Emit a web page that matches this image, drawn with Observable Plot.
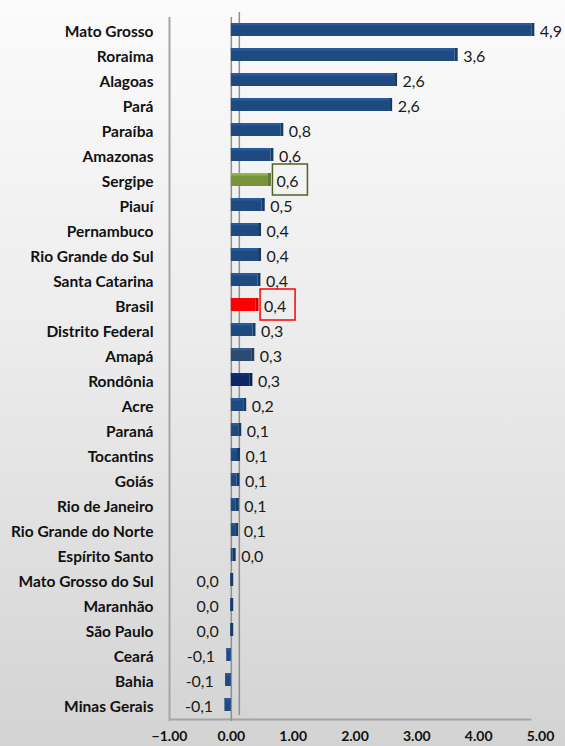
<!DOCTYPE html>
<html>
<head>
<meta charset="utf-8">
<script src="https://cdn.jsdelivr.net/npm/d3@7"></script>
<script src="https://cdn.jsdelivr.net/npm/@observablehq/plot@0.6"></script>
<style>
  html, body { margin: 0; padding: 0; }
  body { width: 565px; height: 746px; background: linear-gradient(#fbfbfb 0%, #ececec 45%, #d3d3d3 100%); overflow: hidden; }
</style>
</head>
<body>
<div id="chart"></div>
<script>
const categories = ["Mato Grosso","Roraima","Alagoas","Pará","Paraíba","Amazonas","Sergipe","Piauí","Pernambuco","Rio Grande do Sul","Santa Catarina","Brasil","Distrito Federal","Amapá","Rondônia","Acre","Paraná","Tocantins","Goiás","Rio de Janeiro","Rio Grande do Norte","Espírito Santo","Mato Grosso do Sul","Maranhão","São Paulo","Ceará","Bahia","Minas Gerais"];
const values = [4.86, 3.62, 2.64, 2.56, 0.8, 0.64, 0.6, 0.5, 0.44, 0.44, 0.43, 0.4, 0.35, 0.33, 0.3, 0.2, 0.12, 0.1, 0.09, 0.08, 0.07, 0.03, -0.01, -0.01, -0.01, -0.07, -0.09, -0.1];
const xTicks = [-1, 0, 1, 2, 3, 4, 5];
const specialColors = {"Sergipe": "#77933c", "Brasil": "#ff0000", "Amapá": "#2b4a70", "Rondônia": "#0c2766"};
const boxed = {"Sergipe": "#4f6228", "Brasil": "#ff0000"};
const baseColor = "#1f4a80";

const data = categories.map((c, i) => ({name: c, value: values[i], color: specialColors[c] || baseColor}));
const fmt = v => (Math.abs(v) < 0.05 ? 0 : v).toFixed(1).replace(".", ",");
const pos = data.filter(d => d.value > 0);
const neg = data.filter(d => d.value <= 0);
const boxes = data.filter(d => boxed[d.name]);
const maxVal = d3.max(values);

const shade = (c, k) => d3.color(c).darker(k).formatHex();
const light = (c, k) => d3.color(c).brighter(k).formatHex();

const chart = Plot.plot({
  width: 565,
  height: 746,
  marginLeft: 169,
  marginRight: 25,
  marginTop: 17,
  marginBottom: 25,
  style: {background: "transparent", fontFamily: "Lato, 'Open Sans', sans-serif", color: "#111"},
  x: {domain: [-1, 5]},
  y: {domain: categories, paddingInner: 0.5, paddingOuter: 0.25},
  marks: [
    Plot.ruleX([-1], {stroke: "#a5a5a5", strokeWidth: 2}),
    Plot.ruleY([categories[categories.length - 1]], {x1: -1, x2: maxVal, dy: 12.5, stroke: "#a5a5a5", strokeWidth: 2}),
    Plot.ruleX([0], {stroke: "#8f8f8f", strokeWidth: 1.5}),
    Plot.ruleX([0], {dx: 8, insetTop: -5, insetBottom: 6, stroke: "#8f8f8f", strokeWidth: 1.5}),
    // side face
    Plot.barX(data, {y: "name", x1: "value", x2: "value", insetRight: -3, dy: -2, fill: d => shade(d.color, 0.6)}),
    // front face
    Plot.barX(data, {y: "name", x1: 0, x2: "value", dy: -2, fill: "color"}),
    // top highlight
    Plot.barX(data, {y: "name", x1: 0, x2: "value", dy: -2, insetBottom: 10.5, fill: d => light(d.color, 0.6)}),
    // label boxes
    Plot.barX(boxes, {y: "name", x1: "value", x2: "value", insetLeft: 4.5, insetRight: -39.5, insetTop: -9, insetBottom: -9, dy: -2, fill: "none", stroke: d => boxed[d.name], strokeWidth: 1.5}),
    Plot.text(pos, {y: "name", x: "value", text: d => fmt(d.value), textAnchor: "start", dx: 8, fontSize: 16, fill: "#1a1a1a"}),
    Plot.text(neg, {y: "name", x: "value", text: d => fmt(d.value), textAnchor: "end", dx: -12, fontSize: 16, fill: "#1a1a1a"}),
    Plot.axisY({tickSize: 0, tickPadding: 16, fontSize: 15.5, fontWeight: "bold", label: null}),
    Plot.axisX({ticks: xTicks, tickFormat: d3.format(".2f"), tickSize: 0, tickPadding: 10, fontSize: 14, fontWeight: "bold", label: null})
  ]
});
document.getElementById("chart").appendChild(chart);
</script>
</body>
</html>
